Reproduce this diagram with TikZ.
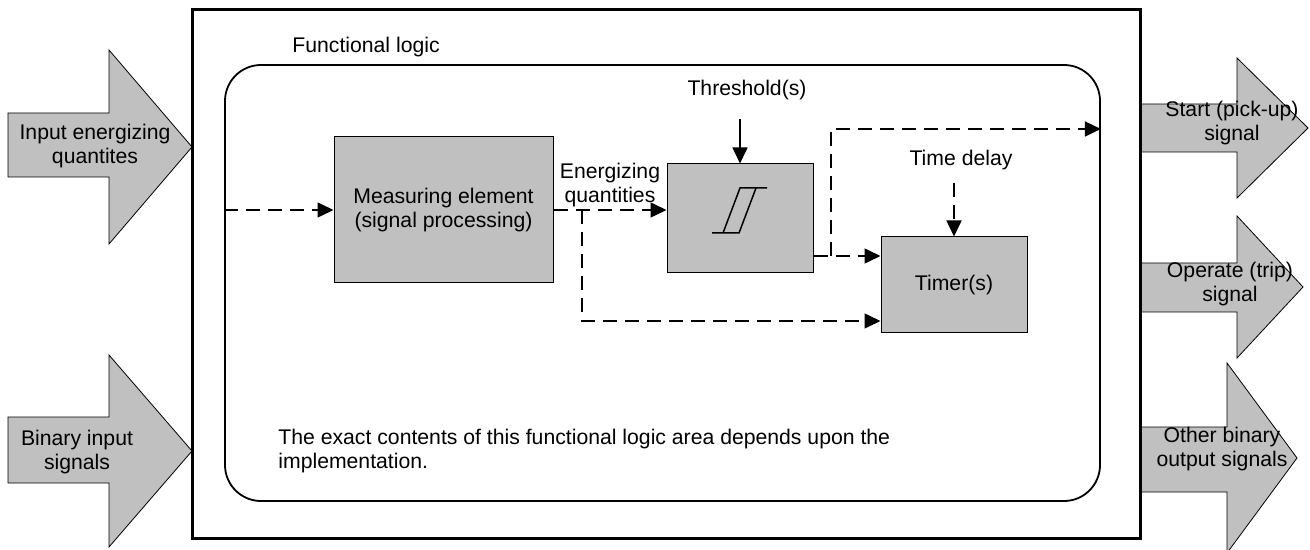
\documentclass[tikz,border=0pt]{standalone}
\usepackage{fontspec}
\setmainfont{Liberation Sans}
\usetikzlibrary{arrows.meta,calc}

\definecolor{boxgray}{HTML}{C0C0C0}
\tikzset{
  block/.style={draw,fill=boxgray,line width=0.5pt,inner sep=0pt,align=center},
  sig/.style={line width=0.75pt,dash pattern=on 7pt off 4pt,-{Triangle[length=8pt,width=7.5pt]}},
  solidsig/.style={line width=0.75pt,-{Triangle[length=8pt,width=7.5pt]}},
  bigarrow/.style={draw,fill=boxgray,line width=0.4pt},
  lbl/.style={align=center,inner sep=0pt}
}

\begin{document}
\begin{tikzpicture}[x=0.5pt,y=-0.5pt,font=\fontsize{10.6}{12}\selectfont]
\useasboundingbox (0,0) rectangle (1310,550);

% input and output signal arrows
\draw[bigarrow] (8,113)--(109,113)--(109,50)--(192,147)--(109,244)--(109,177)--(8,177)--cycle;
\draw[bigarrow] (8,417)--(109,417)--(109,355)--(192,451)--(109,547)--(109,483)--(8,483)--cycle;
\draw[bigarrow] (1140,104)--(1237,104)--(1237,58)--(1308,128)--(1237,198)--(1237,152)--(1140,152)--cycle;
\draw[bigarrow] (1140,263)--(1237,263)--(1237,216)--(1303,287)--(1237,358)--(1237,312)--(1140,312)--cycle;
\draw[bigarrow] (1140,427)--(1227,427)--(1227,363)--(1297,458)--(1227,553)--(1227,492)--(1140,492)--cycle;

\node[lbl] (inq) at (95,146) {Input energizing\\quantites};
\node[lbl] (inb) at (77,452) {Binary input\\signals};
\node[lbl] (outs) at (1232,123) {Start (pick-up)\\signal};
\node[lbl] (outo) at (1230,284) {Operate (trip)\\signal};
\node[lbl] (outb) at (1222,449) {Other binary\\output signals};

% relay and functional logic frames
\node[draw,line width=1.5pt,minimum width=474pt,minimum height=264pt,inner sep=0pt] (relay) at (666,274) {};
\node[draw,line width=0.9pt,rounded corners=18pt,minimum width=437.5pt,minimum height=218pt,inner sep=0pt] (logic) at (662.5,283) {};
\node[lbl,anchor=west] (fl) at (292,47) {Functional logic};

% blocks
\node[block,minimum width=109.5pt,minimum height=73pt] (meas) at (443.5,210) {Measuring element\\(signal processing)};
\node[block,minimum width=73pt,minimum height=54.5pt] (thr) at (740,218.5) {};
\node[block,minimum width=73pt,minimum height=48pt] (timer) at (954,285) {Timer(s)};

% hysteresis sign
\draw[line width=0.75pt] (712,233)--(739,233)--(756,188);
\draw[line width=0.75pt] (723,233)--(740,188)--(767,188);

\node[lbl] (enq) at (610,185) {Energizing\\quantities};
\node[lbl] (thl) at (747,90) {Threshold(s)};
\node[lbl] (tdl) at (961,160) {Time delay};
\node[lbl,align=left,anchor=west] (note) at (278,451) {The exact contents of this functional logic area depends upon the\\implementation.};

% signal flow
\coordinate (br1) at (582,210);
\coordinate (br2) at (831,256);
\coordinate (br2top) at (831,129);
\coordinate (tht) at (740,119);
\coordinate (tdt) at (954,183);
\draw[sig] (logic.west |- meas.west) -- (meas.west);
\draw[sig] (meas.east) -- (meas.east -| thr.west);
\draw[sig] (br1) |- ([yshift=-18pt]timer.west);
\draw[sig] ([yshift=-18.75pt]thr.east) -- ([yshift=-18.75pt]thr.east -| timer.west);
\draw[sig] (br2) -- (br2top) -- (br2top -| logic.east);
\draw[solidsig] (tht) -- (thr.north);
\draw[sig] (tdt) -- (timer.north);
\end{tikzpicture}
\end{document}
